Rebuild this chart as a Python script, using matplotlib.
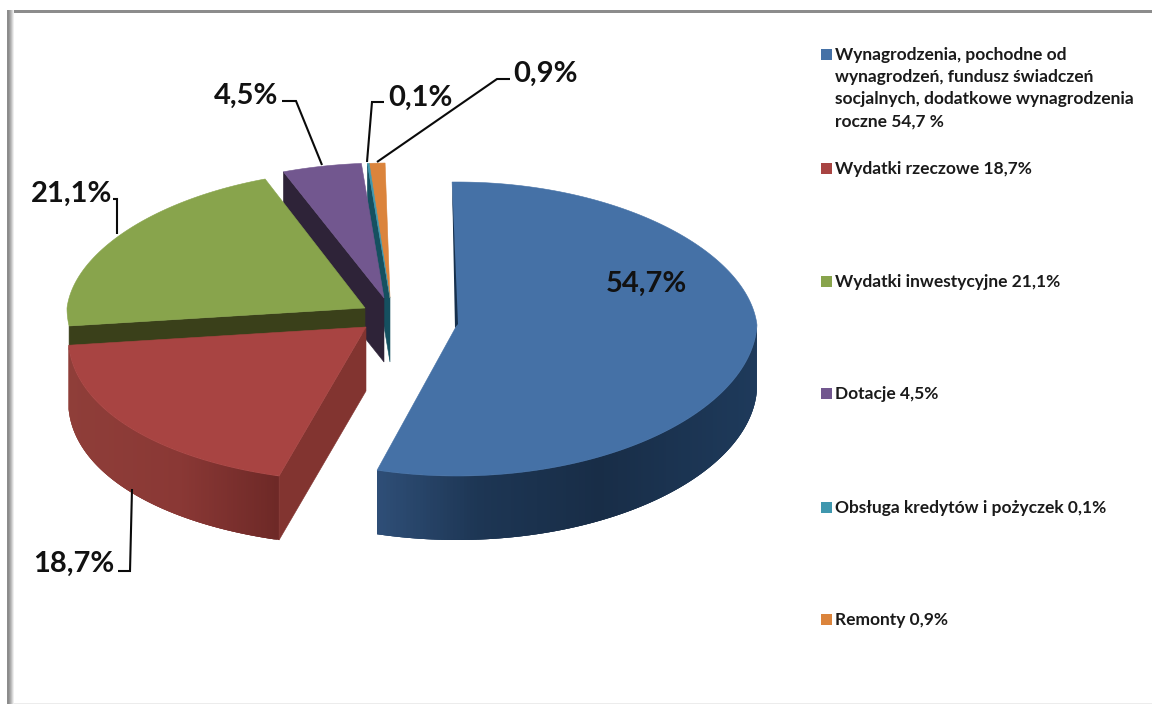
import numpy as np
from matplotlib import pyplot as plt
from matplotlib.collections import PolyCollection
from matplotlib.colors import to_rgb
from matplotlib.patches import Polygon, Rectangle

plt.rcParams['font.family'] = ['Lato', 'DejaVu Sans']

values = [54.7, 18.7, 21.1, 4.5, 0.1, 0.9]
value_labels = ['54,7%', '18,7%', '21,1%', '4,5%', '0,1%', '0,9%']
legend_labels = [
    'Wynagrodzenia, pochodne od\nwynagrodzeń, fundusz świadczeń\nsocjalnych, dodatkowe wynagrodzenia\nroczne 54,7 %',
    'Wydatki rzeczowe 18,7%',
    'Wydatki inwestycyjne 21,1%',
    'Dotacje 4,5%',
    'Obsługa kredytów i pożyczek 0,1%',
    'Remonty 0,9%',
]
colors = ['#4571A6', '#A84442', '#88A44C', '#72578F', '#3F97AE', '#DB843C']
face_colors = ['#16304D', '#823430', '#3A401A', '#2E2338', '#155060', '#8A5020']

# pixel layout of the exploded pie (the axes run in image pixels)
centres = [(457, 325), (366, 327), (365, 308), (384, 298), (390, 298), (390, 298)]
rx_base = [300, 297, 298, 300, 300, 300]
ry_top = [143, 140, 138, 135, 135, 135]
ry_bottom = [151, 155, 153, 153, 153, 153]
spread_bottom = [-0.03, 0.07, 0, 0, 0, 0]
DEPTH = 64
GREEN_CUT_DEPTH = 24
ROTATION = -1

wall_stops = {
    0: [(377, '#2F4F78'), (480, '#1D3654'), (600, '#182D47'), (757, '#1E3A5B')],
    1: [(68, '#8F3E39'), (180, '#8A3835'), (278, '#6E2927')],
}
label_pos = [(646, 284), (74, 564), (72, 194), (246, 96), (420, 98), (545, 74)]
leaders = [
    None,
    [(118, 571), (130, 571), (132, 489)],
    [(113, 199), (117, 199), (117, 234)],
    [(282, 101), (296, 101), (322, 165)],
    [(384, 102), (372, 102), (367, 162)],
    [(510, 79), (497, 79), (377, 162)],
]
legend_y = [54, 168, 281, 393, 507, 619]


def rim(theta, i):
    t = np.radians(theta)
    c = np.cos(t)
    cx, cy = centres[i]
    rx = rx_base[i] * (1 - 0.06 * max(c, 0) + spread_bottom[i] * max(-c, 0))
    ry = ry_top[i] if c > 0 else ry_bottom[i]
    return cx + rx * np.sin(t), cy - ry * c


def wall_colour(x, stops):
    xs = [s[0] for s in stops]
    rgb = np.array([to_rgb(s[1]) for s in stops])
    return [np.interp(x, xs, rgb[:, k]) for k in range(3)]


def draw_wall(ax, i, start, end):
    # outer curved side, strips overlap the next one so no seams show
    a = max(start, 90)
    b = min(end, 270)
    thetas = np.linspace(a, b, 160)
    pts = [rim(th, i) for th in thetas]
    quads = []
    cols = []
    for j in range(len(pts) - 1):
        p = pts[j]
        q = pts[min(j + 3, len(pts) - 1)]
        quads.append([p, q, (q[0], q[1] + DEPTH), (p[0], p[1] + DEPTH)])
        cols.append(wall_colour(p[0], wall_stops[i]))
    ax.add_collection(PolyCollection(quads, facecolors=cols, edgecolors='none'))


def draw_cut(ax, i, theta, depth=DEPTH):
    cx, cy = centres[i]
    x, y = rim(theta, i)
    ax.add_patch(Polygon([(cx, cy), (x, y), (x, y + depth), (cx, cy + depth)],
                         facecolor=face_colors[i], edgecolor=face_colors[i], lw=0.4))


def draw_top(ax, i, start, end):
    thetas = np.linspace(start, end, max(int(end - start) * 2, 4))
    pts = [centres[i]] + [rim(th, i) for th in thetas]
    ax.add_patch(Polygon(pts, facecolor=colors[i], edgecolor=colors[i], lw=0.4))


fig = plt.figure(figsize=(11.52, 7.04), dpi=100)
ax = fig.add_axes([0, 0, 1, 1])
ax.set_xlim(0, 1152)
ax.set_ylim(704, 0)
ax.axis('off')

# frame of the screenshot
ax.add_patch(Rectangle((7, 10), 1145, 3, facecolor='#8C8C8C', edgecolor='none'))
for k, g in enumerate(['#8C8C8C', '#8C8C8C', '#9A9A9A', '#ABABAB', '#C0C0C0', '#D8D8D8', '#EEEEEE']):
    ax.add_patch(Rectangle((7 + k, 10), 1, 694, facecolor=g, edgecolor='none'))
ax.add_patch(Rectangle((14, 703), 1138, 1, facecolor='#ECECEC', edgecolor='none'))

angles = ROTATION + np.concatenate([[0], np.cumsum(values)]) / sum(values) * 360
starts = angles[:-1]
ends = angles[1:]

# back to front: orange, teal, purple, green, red, blue
draw_cut(ax, 4, starts[4])
draw_top(ax, 5, starts[5], ends[5])
draw_top(ax, 4, starts[4], ends[4])
draw_cut(ax, 3, starts[3])
draw_top(ax, 3, starts[3], ends[3])
draw_cut(ax, 2, starts[2], GREEN_CUT_DEPTH)
draw_top(ax, 2, starts[2], ends[2])
draw_wall(ax, 1, starts[1], ends[1])
draw_cut(ax, 1, starts[1])
draw_top(ax, 1, starts[1], ends[1])
draw_wall(ax, 0, starts[0], ends[0])
draw_top(ax, 0, starts[0], ends[0])

# thin dark edge along the first cut of the blue slice
bx, by = centres[0]
ax.add_patch(Polygon([rim(starts[0], 0), (bx + 1, by - 1), (bx - 2, by + 3)],
                     facecolor=face_colors[0], edgecolor='none'))

for pos, text, line in zip(label_pos, value_labels, leaders):
    ax.text(pos[0], pos[1], text, fontsize=21, fontweight='bold', color='#111111',
            ha='center', va='center')
    if line:
        ax.plot([p[0] for p in line], [p[1] for p in line], color='#0A0A0A', lw=1.5,
                solid_joinstyle='miter', solid_capstyle='butt')

for i, (y, text) in enumerate(zip(legend_y, legend_labels)):
    ax.add_patch(Rectangle((821, y - 5.5), 11, 11, facecolor=colors[i], edgecolor='none'))
    ax.text(835, y - 7, text, fontsize=12.5, fontweight='bold', color='#1A1A1A',
            ha='left', va='top', linespacing=1.48)

fig.savefig('out.png', dpi=100)
